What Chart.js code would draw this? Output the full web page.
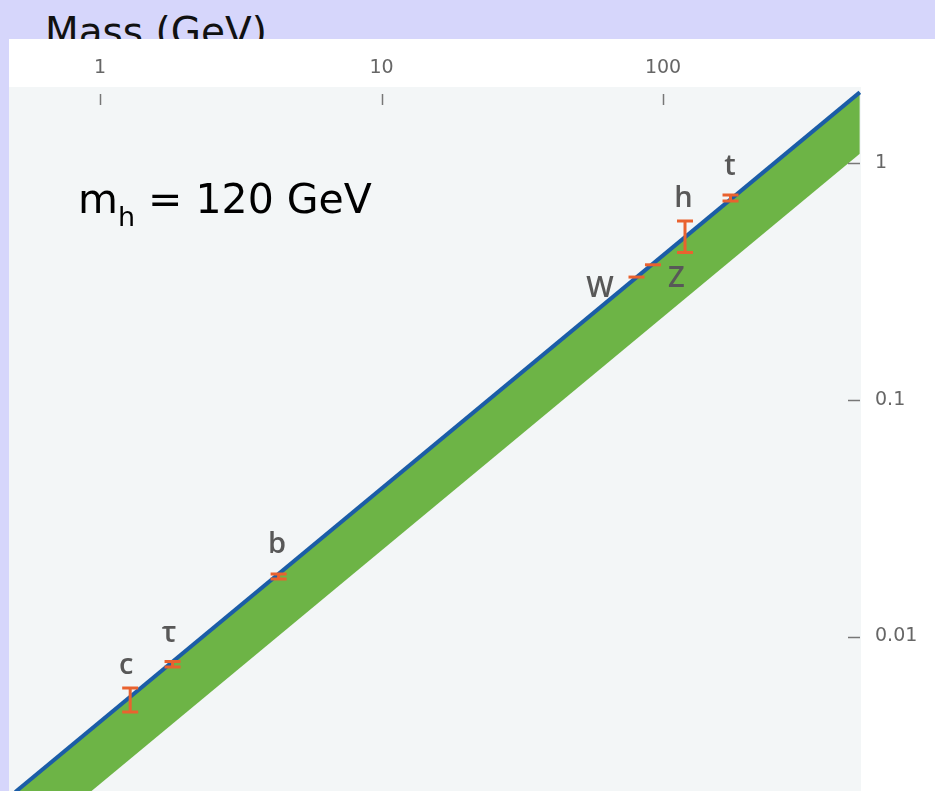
<!DOCTYPE html>
<html>
<head>
<meta charset="utf-8">
<script src="https://cdn.jsdelivr.net/npm/chart.js@4.4.0/dist/chart.umd.min.js"></script>
<style>
  html, body { margin: 0; padding: 0; }
  body { width: 935px; height: 791px; background: #d6d6fb; position: relative; overflow: hidden; }
  #title { position: absolute; left: 45px; top: 12px; font: 39px "DejaVu Sans", sans-serif; line-height: 39px; color: #111; white-space: nowrap; z-index: 1; }
  #panel { position: absolute; left: 9px; top: 39px; right: 0; bottom: 0; background: #fff; z-index: 2; }
  #yukawa { position: absolute; left: 0; top: 0; z-index: 3; }
</style>
</head>
<body>
<div id="title">Mass (GeV)</div>
<div id="panel"></div>
<canvas id="yukawa" width="935" height="791"></canvas>
<script>
// fermion / boson masses (GeV) against their coupling to the Higgs
const particles = ['c', 'τ', 'b', 'W', 'Z', 'h', 't'];
const masses    = [1.28, 1.81, 4.31, 80.5, 92.1, 119.7, 173.7];
const couplingHi = [0.00606, 0.00784, 0.01838, 0.331, 0.373, 0.571, 0.736];
const couplingLo = [0.00480, 0.00743, 0.01750, 0.331, 0.373, 0.420, 0.694];

// edges of the band: m = 0.5 GeV and m = 500 GeV
const bandMass  = [0.5, 500];
const bandUpper = [0.0022, 2.0];
const bandLower = [0.0012, 1.1];

const massTicks = [1, 10, 100];
const massTickLabels = ['1', '10', '100'];
const couplingTicks = [1, 0.1, 0.01];
const couplingTickLabels = ['1', '0.1', '0.01'];

// label placement around each error bar: [dx, dy] from the top cap, baseline
const labelOffsets = [[-4, -14], [-3.5, -19], [-1.5, -21], [-36.5, 20], [23.5, 22], [-1.5, -14], [-0.5, -20]];

const toPoints = (xs, ys) => xs.map((x, i) => ({ x: x, y: ys[i] }));

const plotBackground = {
  id: 'plotBackground',
  beforeDraw(chart) {
    const { ctx, chartArea: a } = chart;
    ctx.save();
    ctx.fillStyle = '#f3f6f7';
    ctx.fillRect(a.left, a.top, a.right - a.left, a.bottom - a.top);
    ctx.restore();
  }
};

const innerTicks = {
  id: 'innerTicks',
  afterDraw(chart) {
    const { ctx, chartArea: a, scales } = chart;
    ctx.save();
    ctx.strokeStyle = '#777';
    ctx.lineWidth = 1.5;
    ctx.beginPath();
    massTicks.forEach(v => {
      const x = Math.round(scales.x.getPixelForValue(v)) + 0.5;
      ctx.moveTo(x, a.top + 7);
      ctx.lineTo(x, a.top + 18);
    });
    couplingTicks.forEach(v => {
      const y = Math.round(scales.y.getPixelForValue(v)) + 0.5;
      ctx.moveTo(a.right - 13, y);
      ctx.lineTo(a.right - 1, y);
    });
    ctx.stroke();
    ctx.restore();
  }
};

const errorBars = {
  id: 'errorBars',
  afterDatasetsDraw(chart) {
    const { ctx, scales } = chart;
    ctx.save();
    ctx.strokeStyle = '#e9622f';
    ctx.lineWidth = 3;
    masses.forEach((m, i) => {
      const x = scales.x.getPixelForValue(m);
      const yHi = scales.y.getPixelForValue(couplingHi[i]);
      const yLo = scales.y.getPixelForValue(couplingLo[i]);
      ctx.beginPath();
      ctx.moveTo(x - 8, yHi); ctx.lineTo(x + 8, yHi);
      if (yLo - yHi > 1) {
        ctx.moveTo(x - 8, yLo); ctx.lineTo(x + 8, yLo);
        ctx.moveTo(x, yHi); ctx.lineTo(x, yLo);
      }
      ctx.stroke();
    });

    ctx.fillStyle = '#585858';
    ctx.font = '600 29px "Open Sans", sans-serif';
    ctx.textAlign = 'center';
    ctx.textBaseline = 'alphabetic';
    particles.forEach((p, i) => {
      const x = scales.x.getPixelForValue(masses[i]);
      const y = scales.y.getPixelForValue(couplingHi[i]);
      ctx.fillText(p, x + labelOffsets[i][0], y + labelOffsets[i][1]);
    });
    ctx.restore();
  }
};

const higgsNote = {
  id: 'higgsNote',
  afterDraw(chart) {
    const { ctx } = chart;
    ctx.save();
    ctx.fillStyle = '#000';
    ctx.textBaseline = 'alphabetic';
    ctx.textAlign = 'left';
    let x = 78;
    ctx.font = '41px "DejaVu Sans", sans-serif';
    ctx.fillText('m', x, 213);
    x += ctx.measureText('m').width;
    ctx.font = '27px "DejaVu Sans", sans-serif';
    ctx.fillText('h', x, 226);
    x += ctx.measureText('h').width;
    ctx.font = '41px "DejaVu Sans", sans-serif';
    ctx.fillText(' = 120 GeV', x, 213);
    ctx.restore();
  }
};

new Chart(document.getElementById('yukawa'), {
  type: 'scatter',
  data: {
    datasets: [
      {
        data: toPoints(bandMass, bandUpper),
        showLine: true,
        borderColor: '#1b5da7',
        borderWidth: 4,
        backgroundColor: '#6db446',
        pointRadius: 0,
        fill: '+1'
      },
      {
        data: toPoints(bandMass, bandLower),
        showLine: true,
        borderWidth: 0,
        borderColor: 'rgba(0,0,0,0)',
        pointRadius: 0,
        fill: false
      }
    ]
  },
  options: {
    responsive: false,
    animation: false,
    devicePixelRatio: 1,
    layout: { autoPadding: false, padding: { left: 9, top: 0, right: 0, bottom: 0 } },
    plugins: { legend: { display: false }, tooltip: { enabled: false } },
    scales: {
      x: {
        type: 'logarithmic',
        position: 'top',
        min: 0.475,
        max: 505,
        border: { display: false },
        grid: { display: false, drawTicks: false },
        afterBuildTicks: s => { s.ticks = massTicks.map(v => ({ value: v })); },
        afterFit: s => { s.height = 87; s.paddingLeft = 0; s.paddingRight = 0; },
        ticks: {
          padding: 8,
          maxRotation: 0,
          color: '#666',
          font: { family: '"DejaVu Sans"', size: 19 },
          callback: (v, i) => massTickLabels[i]
        }
      },
      y: {
        type: 'logarithmic',
        position: 'right',
        min: 0.002222,
        max: 2.106,
        border: { display: false },
        grid: { display: false, drawTicks: false },
        afterBuildTicks: s => { s.ticks = couplingTicks.map(v => ({ value: v })); },
        afterFit: s => { s.width = 74; s.paddingTop = 0; s.paddingBottom = 0; },
        ticks: {
          padding: 14,
          color: '#666',
          font: { family: '"DejaVu Sans"', size: 19 },
          callback: (v, i) => couplingTickLabels[i]
        }
      }
    }
  },
  plugins: [plotBackground, innerTicks, errorBars, higgsNote]
});
</script>
</body>
</html>
